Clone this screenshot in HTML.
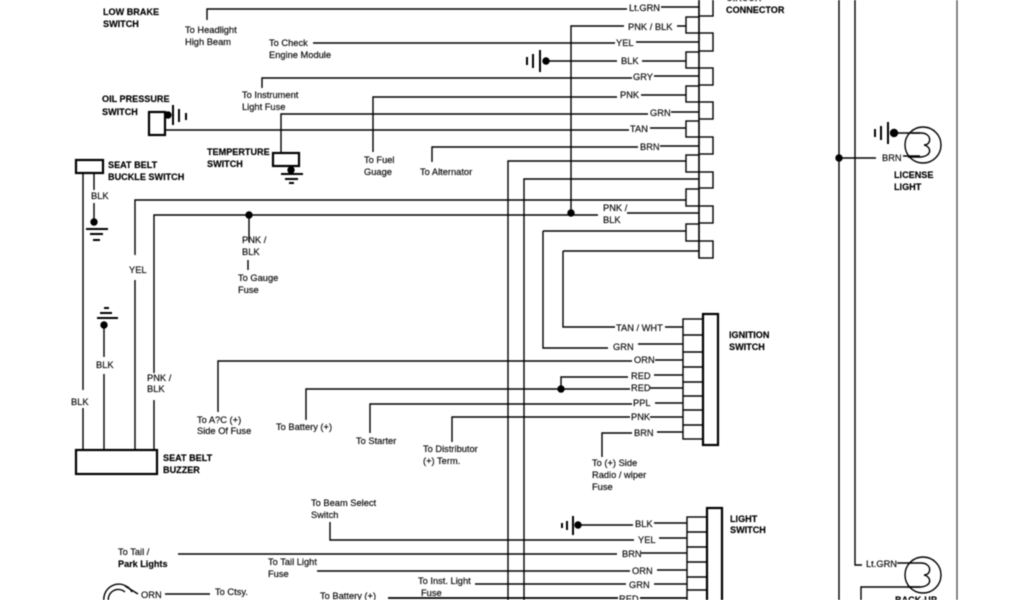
<!DOCTYPE html>
<html><head><meta charset="utf-8"><style>
html,body{margin:0;padding:0;background:#fff;width:1024px;height:600px;overflow:hidden}
svg{display:block;filter:blur(.45px)}
text{font-family:"Liberation Sans",sans-serif;font-size:9.3px;fill:#111;stroke:#111;stroke-width:.2}
.b{font-weight:bold;fill:#000;stroke:#000;stroke-width:.15;font-size:9.1px}
.w{fill:none;stroke:#000;stroke-width:1.4}
.t{fill:#fff;stroke:#000;stroke-width:1.4}
.h{fill:none;stroke:#000;stroke-width:2.2}
.g{fill:#000}
</style></head><body>
<svg width="1024" height="600" viewBox="0 0 1024 600" xmlns="http://www.w3.org/2000/svg">
<!-- connector boxes -->
<g class="t">
<rect x="699" y="-2" width="14" height="18"/><rect x="686" y="17" width="13" height="16"/>
<rect x="699" y="33" width="14" height="18"/><rect x="686" y="52" width="13" height="16"/>
<rect x="699" y="68" width="14" height="17"/><rect x="686" y="86" width="13" height="16"/>
<rect x="699" y="102" width="14" height="17"/><rect x="686" y="121" width="13" height="16"/>
<rect x="699" y="137" width="14" height="17"/><rect x="686" y="155" width="13" height="17"/>
<rect x="699" y="172" width="14" height="16"/><rect x="686" y="189" width="13" height="17"/>
<rect x="699" y="206" width="14" height="17"/><rect x="686" y="224" width="13" height="17"/>
<rect x="699" y="241" width="14" height="17"/>
</g>
<path class="w" d="M699 0V258"/>
<!-- top wires -->
<g class="w">
<path d="M207 20V9H627"/><path d="M661 7H699"/>
<path d="M571 213V26H624M677 26H686"/>
<path d="M313 43H615M636 42H699"/>
<path d="M546 61H617M642 61H686"/>
<path d="M262 88V78H632M654 76H699"/>
<path d="M373 152V97H617M641 95H686"/>
<path d="M281 153V114H648M671 112H699"/>
<path d="M165 130H629M650 128H686"/>
<path d="M432 162V147H638M660 146H699"/>
<path d="M508 600V161H686"/>
<path d="M524 600V179H699"/>
<path d="M135 255V200H686M135 280V449"/>
<path d="M154 373V215H598M627 213H699M154 400V449"/>
<path d="M249 215V242M248 260V270"/>
<path d="M543 231H686M543 231V348H608M638 344H683"/>
<path d="M563 251H699M563 251V327H615M665 327H683"/>
<!-- ignition -->
<path d="M218 412V361H632M655 360H683"/>
<path d="M561 389V377H628M654 375H683"/>
<path d="M306 420V389H630M650 388H683"/>
<path d="M370 433V404H632M655 403H683"/>
<path d="M452 442V417H630M650 417H683"/>
<path d="M602 457V433H632M657 432H683"/>
<!-- light switch -->
<path d="M578 525H633M654 523H687"/>
<path d="M330 522V540H634M659 538H687"/>
<path d="M178 554H617M641 553H687"/>
<path d="M317 571H630M657 570H687"/>
<path d="M475 584H626M654 584H687"/>
<path d="M640 598H687M388 598H618" style="stroke-width:1.8"/>
<!-- seat belt -->
<path d="M83 173V390M83 408V449"/>
<path d="M94 173V190M94 203V222"/>
<path d="M104 325V357M104 374V449"/>
<!-- right -->
<path d="M839 0V600"/>
<path d="M855 0V565H862M897 563H912"/>
<path d="M957 0V600" style="stroke:#555"/>
<path d="M839 158H876M903 156H920"/>
<path d="M894 133H920"/>
<path d="M861 600V587H920"/>
<path d="M165 594H210M125 586L138 594"/>
</g>
<!-- switch bodies -->
<g class="t">
<rect x="683" y="319" width="20" height="120"/>
<path d="M683 335H703M683 352H703M683 367H703M683 382H703M683 396H703M683 410H703M683 425H703"/>
<rect x="687" y="517" width="20" height="90"/>
<path d="M687 532H707M687 547H707M687 562H707M687 577H707M687 590H707"/>
</g>
<rect x="703" y="314" width="15" height="131" fill="#fff" stroke="#000" stroke-width="2.2"/>
<rect x="707" y="508" width="15" height="100" fill="#fff" stroke="#000" stroke-width="2.2"/>
<rect class="h" x="76" y="160" width="27" height="13"/>
<rect class="h" x="76" y="450" width="81" height="24"/>
<rect class="h" x="149" y="112" width="16" height="23"/>
<rect class="h" x="273" y="153" width="26" height="13"/>
<!-- dots -->
<g class="g">
<circle cx="249" cy="215" r="3.7"/><circle cx="571" cy="213" r="3.7"/><circle cx="561" cy="389" r="3.7"/>
<circle cx="839" cy="158" r="3.7"/><circle cx="546" cy="61" r="3.7"/><circle cx="168" cy="115" r="3.7"/>
<circle cx="291" cy="170" r="3.7"/><circle cx="94" cy="222" r="3.7"/><circle cx="104" cy="325" r="3.7"/>
<circle cx="578" cy="525" r="3.7"/><circle cx="894" cy="133" r="4.2"/>
</g>
<!-- grounds -->
<g class="w" style="stroke-width:2">
<path d="M540 50V72M533 54V68M527 57V65"/>
<path d="M173 105V125M179 109V122M186 113V120"/>
<path d="M291 166V174M281 174H303M285 179H298M289 183H294"/>
<path d="M86 229H108M90 234H103M93 240H100"/>
<path d="M97 318H118M100 313H112M104 308H109"/>
<path d="M573 516V535M567 521V530M562 523V528"/>
<path d="M888 122V144M881 126V140M875 129V137"/>
</g>
<!-- bulbs -->
<g class="w">
<circle cx="923" cy="145" r="18"/>
<path d="M912 133H921C932 133 932 145 924 145C932 147 932 156 921 157H908"/>
<circle cx="923" cy="575" r="18"/>
<path d="M912 563H921C932 563 932 575 924 575C932 577 932 586 921 587H908"/>
<path d="M105 605A15 15 0 0 1 132 592"/><path d="M110 605A10 10 0 0 1 125 592"/>
</g>
<!-- labels -->
<text class="b" x="103" y="15">LOW BRAKE</text><text class="b" x="103" y="27">SWITCH</text>
<text x="185" y="33">To Headlight</text><text x="185" y="45">High Beam</text>
<text x="269" y="46">To Check</text><text x="269" y="58">Engine Module</text>
<text x="242" y="98">To Instrument</text><text x="242" y="110">Light Fuse</text>
<text class="b" x="102" y="102">OIL PRESSURE</text><text class="b" x="102" y="115">SWITCH</text>
<text class="b" x="207" y="155">TEMPERTURE</text><text class="b" x="207" y="167">SWITCH</text>
<text class="b" x="108" y="168">SEAT BELT</text><text class="b" x="108" y="180">BUCKLE SWITCH</text>
<text x="364" y="163">To Fuel</text><text x="364" y="175">Guage</text>
<text x="420" y="175">To Alternator</text>
<text x="91" y="199">BLK</text>
<text x="242" y="243">PNK /</text><text x="242" y="255">BLK</text>
<text x="238" y="281">To Gauge</text><text x="238" y="293">Fuse</text>
<text x="129" y="273">YEL</text>
<text x="147" y="381">PNK /</text><text x="147" y="392">BLK</text>
<text x="71" y="405">BLK</text><text x="96" y="368">BLK</text>
<text x="629" y="11">Lt.GRN</text><text x="628" y="30">PNK / BLK</text>
<text x="616" y="46">YEL</text><text x="621" y="64">BLK</text><text x="633" y="80">GRY</text>
<text x="620" y="98">PNK</text><text x="650" y="116">GRN</text><text x="630" y="132">TAN</text><text x="640" y="150">BRN</text>
<text x="603" y="211">PNK /</text><text x="603" y="223">BLK</text>
<text class="b" x="726" y="13">CONNECTOR</text><text class="b" x="726" y="1">CIRCUIT</text>
<text x="616" y="331">TAN / WHT</text><text x="613" y="350">GRN</text>
<text x="634" y="363">ORN</text><text x="631" y="379">RED</text><text x="631" y="391">RED</text>
<text x="633" y="406">PPL</text><text x="631" y="420">PNK</text><text x="634" y="436">BRN</text>
<text class="b" x="729" y="338">IGNITION</text><text class="b" x="729" y="350">SWITCH</text>
<text x="197" y="423">To A?C (+)</text><text x="197" y="434">Side Of Fuse</text>
<text x="276" y="430">To Battery (+)</text><text x="356" y="444">To Starter</text>
<text x="423" y="452">To Distributor</text><text x="423" y="464">(+) Term.</text>
<text x="592" y="466">To (+) Side</text><text x="592" y="478">Radio / wiper</text><text x="592" y="490">Fuse</text>
<text class="b" x="163" y="461">SEAT BELT</text><text class="b" x="163" y="473">BUZZER</text>
<text x="311" y="506">To Beam Select</text><text x="311" y="518">Switch</text>
<text x="118" y="555">To Tail /</text><text class="b" x="118" y="567">Park Lights</text>
<text x="268" y="565">To Tail Light</text><text x="268" y="577">Fuse</text>
<text x="141" y="598">ORN</text><text x="215" y="595">To Ctsy.</text>
<text x="320" y="599">To Battery (+)</text>
<text x="418" y="584">To Inst. Light</text><text x="421" y="596">Fuse</text>
<text x="635" y="527">BLK</text><text x="638" y="543">YEL</text><text x="622" y="557">BRN</text>
<text x="632" y="574">ORN</text><text x="629" y="588">GRN</text><text x="619" y="602">RED</text>
<text class="b" x="730" y="522">LIGHT</text><text class="b" x="730" y="533">SWITCH</text>
<text x="882" y="161">BRN</text>
<text class="b" x="894" y="178">LICENSE</text><text class="b" x="894" y="190">LIGHT</text>
<text x="866" y="567">Lt.GRN</text>
<text class="b" x="895" y="603">BACK-UP</text>
</svg>
</body></html>
